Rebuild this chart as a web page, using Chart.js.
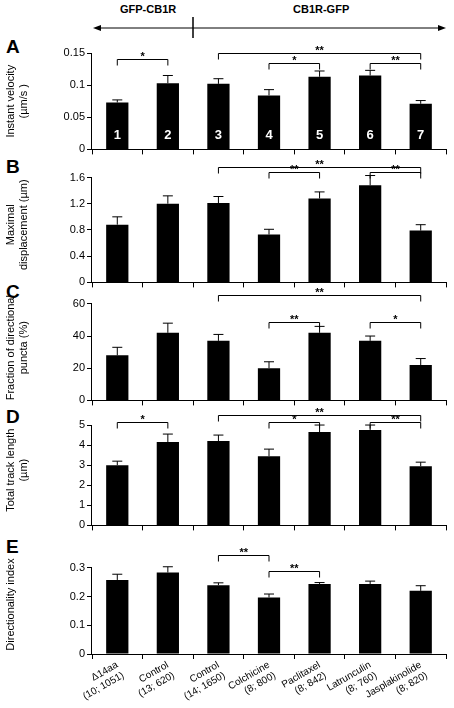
<!DOCTYPE html>
<html><head><meta charset="utf-8">
<script src="https://cdn.jsdelivr.net/npm/chart.js@4"></script>
<style>
body{margin:0;width:454px;height:708px;position:relative;background:#fff;font-family:"Liberation Sans",Arial,sans-serif;overflow:hidden}
canvas{position:absolute;left:0}
.lt{position:absolute;left:6px;font-weight:bold;font-size:19px}
.hd{position:absolute;top:3px;font-weight:bold;font-size:11px}
</style></head><body>
<svg width="454" height="45" style="position:absolute;left:0;top:0">
<line x1="96" y1="28" x2="443" y2="28" stroke="#000" stroke-width="1"/>
<polygon points="93,28 101,25 101,31" fill="#000"/>
<polygon points="446,28 438,25 438,31" fill="#000"/>
<line x1="193" y1="17" x2="193" y2="38" stroke="#000" stroke-width="1.5"/>
</svg>
<div class="hd" style="left:120px">GFP-CB1R</div>
<div class="hd" style="left:293px">CB1R-GFP</div>
<div class="lt" style="top:36px">A</div>
<div class="lt" style="top:156px">B</div>
<div class="lt" style="top:281px">C</div>
<div class="lt" style="top:406px">D</div>
<div class="lt" style="top:536px">E</div>
<canvas id="cA" width="454" height="120" style="top:38px"></canvas>
<canvas id="cB" width="454" height="139" style="top:152px"></canvas>
<canvas id="cC" width="454" height="129" style="top:280px"></canvas>
<canvas id="cD" width="454" height="134" style="top:400px"></canvas>
<canvas id="cE" width="454" height="168" style="top:540px"></canvas>
<script>
const categories = [['\u039414aa','(10; 1051)'],['Control','(13; 620)'],['Control','(14; 1650)'],['Colchicine','(8; 800)'],['Paclitaxel','(8; 842)'],['Latrunculin','(8; 760)'],['Jasplakinolide','(8; 820)']];
const barNumbers = ['1','2','3','4','5','6','7'];

const velocity = [0.073,0.103,0.102,0.084,0.113,0.115,0.071];
const velocityErr = [0.004,0.012,0.008,0.009,0.009,0.008,0.005];
const displacement = [0.88,1.20,1.21,0.73,1.28,1.48,0.79];
const displacementErr = [0.12,0.12,0.10,0.08,0.10,0.15,0.09];
const directional = [28,42,37,20,42,37,22];
const directionalErr = [5,6,4,4,4,3,4];
const trackLength = [3.0,4.15,4.2,3.45,4.65,4.75,2.95];
const trackLengthErr = [0.2,0.4,0.3,0.35,0.35,0.25,0.2];
const directionality = [0.258,0.284,0.240,0.197,0.244,0.244,0.220];
const directionalityErr = [0.020,0.020,0.008,0.012,0.005,0.010,0.018];

// brackets: [from, to, level, label]
const sigA = [[0,1,0.14,'*'],[2,6,0.15,'**'],[3,4,0.134,'*'],[5,6,0.134,'**']];
const sigB = [[2,6,1.76,'**'],[3,4,1.68,'**'],[5,6,1.68,'**']];
const sigC = [[2,6,65.5,'**'],[3,4,49,'**'],[5,6,49,'*']];
const sigD = [[2,6,5.5,'**'],[0,1,5.15,'*'],[3,4,5.15,'*'],[5,6,5.15,'**']];
const sigE = [[2,3,0.345,'**'],[3,4,0.29,'**']];

const FONT = '"Liberation Sans", Arial, sans-serif';

function makeChart(id, values, errs, sig, opt) {
  const annot = {
    id: 'annot',
    afterDatasetsDraw(chart) {
      const c = chart.ctx, x = chart.scales.x, y = chart.scales.y;
      c.save();
      c.strokeStyle = '#000'; c.fillStyle = '#000'; c.lineWidth = 1;
      c.beginPath();
      c.moveTo(x.left - 0.5, y.getPixelForValue(0)); c.lineTo(x.left - 0.5, y.getPixelForValue(opt.tickMax));
      c.stroke();
      values.forEach((v, i) => {
        const px = x.getPixelForValue(i);
        const t = y.getPixelForValue(v + errs[i]), b = y.getPixelForValue(v);
        c.beginPath(); c.moveTo(px, b); c.lineTo(px, t); c.moveTo(px - 5, t); c.lineTo(px + 5, t); c.stroke();
      });
      c.font = 'bold 11px ' + FONT; c.textAlign = 'center'; c.textBaseline = 'bottom';
      sig.forEach(s => {
        const x1 = x.getPixelForValue(s[0]), x2 = x.getPixelForValue(s[1]);
        const py = Math.round(y.getPixelForValue(s[2])) + 0.5;
        c.beginPath(); c.moveTo(x1, py + 6); c.lineTo(x1, py); c.lineTo(x2, py); c.lineTo(x2, py + 6); c.stroke();
        c.fillText(s[3], (x1 + x2) / 2, py + 3);
      });
      if (opt.numbers) {
        c.fillStyle = '#fff'; c.font = 'bold 13px ' + FONT; c.textBaseline = 'middle';
        opt.numbers.forEach((n, i) => c.fillText(n, x.getPixelForValue(i), y.getPixelForValue(0) - 14));
      }
      c.restore();
    }
  };
  return new Chart(document.getElementById(id), {
    type: 'bar',
    data: { labels: categories, datasets: [{ data: values, backgroundColor: '#000', categoryPercentage: 1, barPercentage: 0.44 }] },
    options: {
      responsive: false, animation: false,
      layout: { padding: { top: 15, right: 8, left: 0, bottom: 0 } },
      plugins: { legend: { display: false }, tooltip: { enabled: false } },
      scales: {
        x: {
          grid: { offset: true, drawOnChartArea: false, tickLength: 5, color: '#000' },
          border: { color: '#000' },
          ticks: { display: !!opt.showLabels, autoSkip: false, color: '#000', font: { size: 10, family: FONT }, minRotation: 30, maxRotation: 30, padding: 0 },
          afterFit(s) { s.height = opt.showLabels ? 54 : 6; }
        },
        y: {
          min: 0, max: opt.max,
          grid: { drawOnChartArea: false, tickLength: 5, color: '#000' },
          border: { display: false },
          ticks: { color: '#000', font: { size: 11, family: FONT }, padding: 2, callback: opt.fmt },
          afterBuildTicks(s) {
            const t = [];
            for (let k = 0; k * opt.step <= opt.tickMax + 1e-9; k++) t.push({ value: +(k * opt.step).toFixed(6) });
            s.ticks = t;
          },
          title: { display: true, text: opt.title, color: '#000', font: { size: 11, family: FONT }, padding: { bottom: 2 } },
          afterFit(s) { s.width = 92; }
        }
      }
    },
    plugins: [annot]
  });
}

makeChart('cA', velocity, velocityErr, sigA, { max: 0.15, tickMax: 0.15, step: 0.05, title: ['Instant velocity', '(\u00b5m/s )'], numbers: barNumbers, fmt: v => v === 0 ? '0' : String(+v.toFixed(2)) });
makeChart('cB', displacement, displacementErr, sigB, { max: 1.76, tickMax: 1.6, step: 0.4, title: ['Maximal', 'displacement (\u00b5m)'], fmt: v => v === 0 ? '0' : v.toFixed(1) });
makeChart('cC', directional, directionalErr, sigC, { max: 65.5, tickMax: 60, step: 20, title: ['Fraction of directional', 'puncta (%)'], fmt: v => String(v) });
makeChart('cD', trackLength, trackLengthErr, sigD, { max: 5.5, tickMax: 5, step: 1, title: ['Total track length', '(\u00b5m)'], fmt: v => String(v) });
makeChart('cE', directionality, directionalityErr, sigE, { max: 0.345, tickMax: 0.3, step: 0.1, title: 'Directionality index', showLabels: true, fmt: v => v === 0 ? '0' : v.toFixed(1) });
</script>
</body></html>
